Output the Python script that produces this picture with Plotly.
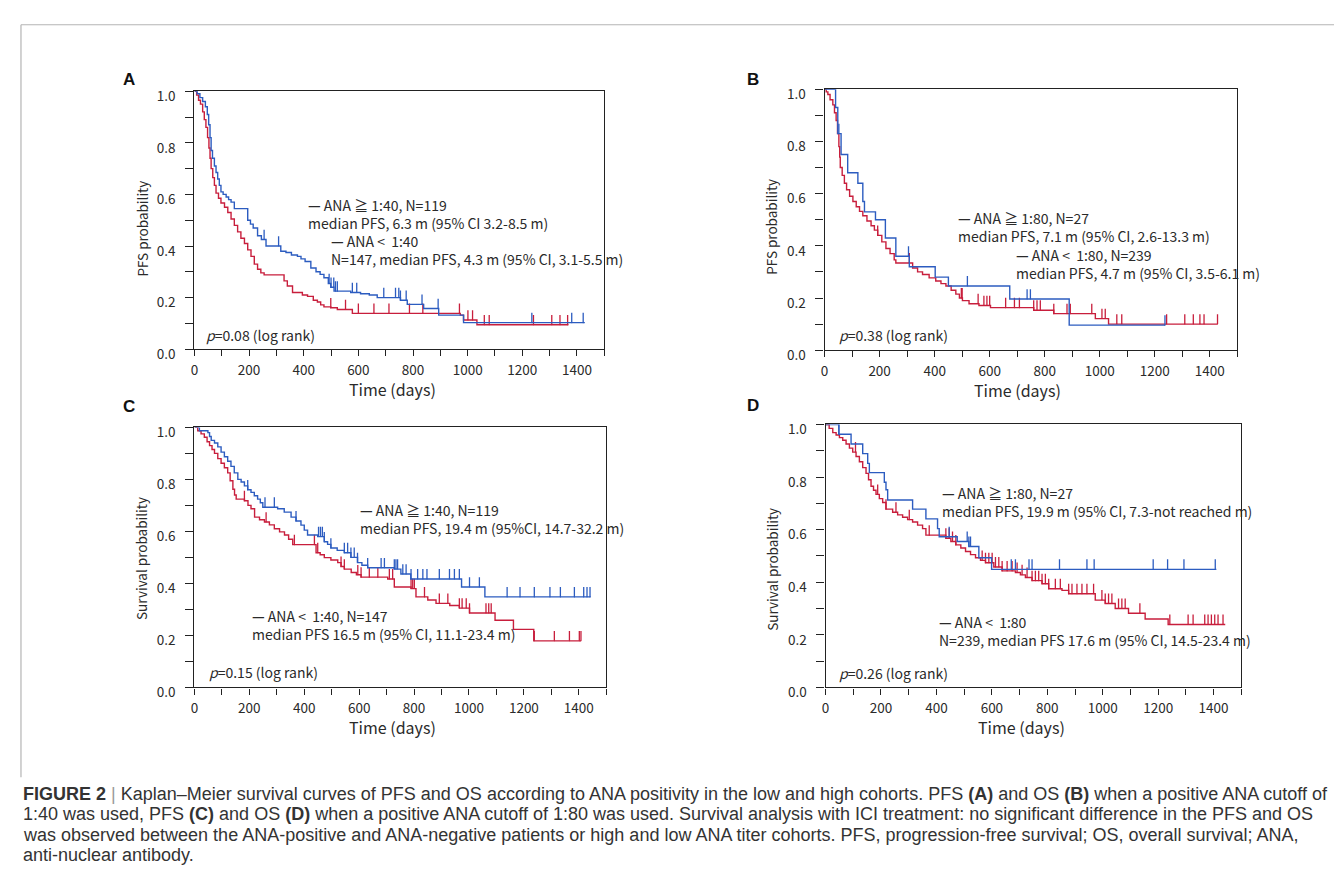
import numpy as np
import plotly.graph_objects as go

# ---------------- data ----------------
# Panel A: PFS, cutoff 1:40
a_hi_t = [0, 10, 20, 30, 40, 47, 52, 57, 61, 66, 73, 79, 85, 91, 97, 105, 116, 125, 134, 146, 195, 205, 215, 231, 245, 262, 316, 335, 355, 377, 390, 405, 426, 445, 460, 474, 490, 499, 511, 572, 608, 640, 669, 754, 779, 839, 894, 985, 1429]
a_hi_s = [1.0, 0.99, 0.975, 0.96, 0.94, 0.91, 0.87, 0.82, 0.77, 0.74, 0.71, 0.685, 0.66, 0.635, 0.61, 0.60, 0.59, 0.58, 0.57, 0.545, 0.50, 0.485, 0.47, 0.44, 0.425, 0.40, 0.38, 0.375, 0.365, 0.36, 0.35, 0.34, 0.315, 0.30, 0.29, 0.277, 0.255, 0.24, 0.225, 0.22, 0.215, 0.21, 0.20, 0.19, 0.174, 0.158, 0.132, 0.103, 0.103]
a_lo_t = [0, 8, 15, 22, 30, 36, 42, 48, 53, 57, 61, 67, 73, 79, 88, 97, 110, 122, 134, 146, 158, 170, 183, 195, 207, 219, 231, 243, 255, 328, 340, 359, 395, 414, 435, 450, 462, 474, 499, 523, 578, 973, 985, 1034, 1369]
a_lo_s = [1.0, 0.985, 0.965, 0.95, 0.92, 0.89, 0.86, 0.82, 0.78, 0.74, 0.70, 0.665, 0.635, 0.605, 0.585, 0.567, 0.55, 0.53, 0.505, 0.48, 0.455, 0.43, 0.41, 0.385, 0.36, 0.33, 0.31, 0.296, 0.288, 0.265, 0.245, 0.22, 0.21, 0.205, 0.19, 0.183, 0.172, 0.164, 0.161, 0.154, 0.139, 0.132, 0.113, 0.095, 0.095]
a_hi_cens = [255, 308, 493, 500, 510, 516, 523, 578, 594, 693, 736, 748, 754, 775, 833, 892, 1235, 1381, 1423]
a_lo_cens = [499, 553, 600, 657, 712, 787, 836, 970, 1001, 1018, 1061, 1079, 1241, 1308, 1338, 1366]

# Panel B: PFS, cutoff 1:80
b_hi_t = [0, 40, 48, 60, 84, 121, 139, 145, 185, 221, 259, 308, 402, 450, 673, 889, 1237]
b_hi_s = [1.0, 0.93, 0.83, 0.75, 0.68, 0.64, 0.57, 0.53, 0.50, 0.43, 0.36, 0.32, 0.28, 0.246, 0.196, 0.096, 0.096]
b_lo_t = [0, 6, 12, 20, 30, 36, 42, 47, 52, 55, 57, 64, 72, 80, 91, 103, 115, 127, 139, 154, 169, 181, 193, 208, 223, 238, 253, 259, 320, 338, 356, 380, 404, 423, 441, 460, 477, 490, 501, 525, 561, 603, 760, 833, 984, 1032, 1428]
b_lo_s = [1.0, 0.99, 0.98, 0.96, 0.94, 0.91, 0.88, 0.83, 0.78, 0.74, 0.70, 0.67, 0.64, 0.615, 0.59, 0.57, 0.55, 0.532, 0.515, 0.495, 0.477, 0.46, 0.44, 0.415, 0.39, 0.37, 0.346, 0.334, 0.315, 0.30, 0.29, 0.277, 0.265, 0.255, 0.246, 0.23, 0.215, 0.20, 0.19, 0.178, 0.171, 0.163, 0.153, 0.14, 0.121, 0.10, 0.10]
b_hi_cens = [52, 305, 519, 736, 748, 1237]
b_lo_cens = [193, 308, 497, 500, 558, 579, 590, 600, 658, 690, 708, 760, 772, 784, 833, 881, 893, 971, 1008, 1020, 1062, 1080, 1243, 1309, 1340, 1364, 1379, 1428]

# Panel C: OS, cutoff 1:40
c_hi_t = [0, 18, 49, 55, 61, 73, 85, 97, 109, 121, 133, 145, 158, 170, 182, 194, 206, 218, 230, 240, 249, 303, 327, 352, 370, 388, 400, 412, 449, 473, 485, 497, 520, 546, 570, 594, 610, 631, 728, 752, 788, 973, 1058, 1443]
c_hi_s = [1.0, 0.987, 0.98, 0.965, 0.95, 0.94, 0.925, 0.905, 0.887, 0.87, 0.85, 0.825, 0.80, 0.79, 0.775, 0.76, 0.75, 0.737, 0.724, 0.71, 0.693, 0.687, 0.674, 0.655, 0.64, 0.624, 0.605, 0.586, 0.58, 0.56, 0.55, 0.536, 0.527, 0.518, 0.50, 0.48, 0.47, 0.46, 0.455, 0.436, 0.417, 0.386, 0.348, 0.348]
c_lo_t = [0, 12, 24, 36, 46, 55, 64, 73, 85, 97, 109, 121, 130, 140, 146, 152, 182, 195, 206, 219, 237, 255, 273, 291, 310, 328, 343, 358, 443, 458, 473, 497, 522, 534, 546, 571, 590, 607, 704, 728, 789, 807, 850, 880, 930, 965, 1002, 1095, 1162, 1236, 1408]
c_lo_s = [1.0, 0.987, 0.975, 0.962, 0.945, 0.93, 0.915, 0.90, 0.88, 0.862, 0.845, 0.825, 0.795, 0.762, 0.74, 0.724, 0.718, 0.70, 0.687, 0.655, 0.645, 0.636, 0.625, 0.61, 0.598, 0.586, 0.57, 0.549, 0.518, 0.51, 0.499, 0.49, 0.48, 0.465, 0.455, 0.442, 0.433, 0.424, 0.417, 0.386, 0.38, 0.348, 0.336, 0.323, 0.315, 0.305, 0.286, 0.258, 0.223, 0.179, 0.179]
c_hi_cens = [194, 257, 291, 370, 452, 459, 466, 473, 497, 546, 558, 570, 582, 594, 631, 680, 692, 728, 734, 740, 759, 771, 789, 813, 832, 847, 892, 929, 947, 965, 1002, 1038, 1139, 1186, 1238, 1295, 1333, 1384, 1418, 1430, 1441]
c_lo_cens = [182, 261, 364, 437, 449, 534, 546, 595, 607, 637, 668, 710, 722, 789, 795, 801, 838, 892, 923, 965, 975, 990, 1002, 1062, 1072, 1081, 1238, 1311, 1366, 1402, 1408]

# Panel D: OS, cutoff 1:80
d_hi_t = [0, 48, 92, 134, 152, 158, 212, 218, 224, 314, 362, 404, 410, 475, 517, 553, 599, 1410]
d_hi_s = [1.0, 0.963, 0.926, 0.889, 0.852, 0.817, 0.78, 0.752, 0.713, 0.678, 0.641, 0.604, 0.573, 0.555, 0.536, 0.493, 0.449, 0.449]
d_lo_t = [0, 13, 26, 38, 50, 62, 74, 86, 98, 110, 122, 134, 146, 155, 164, 173, 182, 194, 206, 218, 242, 260, 278, 296, 314, 332, 350, 362, 434, 452, 470, 488, 505, 523, 541, 559, 577, 607, 637, 685, 703, 721, 745, 781, 805, 853, 877, 973, 1009, 1045, 1093, 1153, 1236, 1442]
d_lo_s = [1.0, 0.985, 0.969, 0.96, 0.95, 0.94, 0.926, 0.91, 0.895, 0.878, 0.858, 0.836, 0.814, 0.79, 0.765, 0.75, 0.734, 0.718, 0.703, 0.678, 0.666, 0.656, 0.647, 0.638, 0.629, 0.617, 0.604, 0.579, 0.567, 0.555, 0.542, 0.53, 0.517, 0.505, 0.493, 0.483, 0.474, 0.458, 0.443, 0.437, 0.428, 0.418, 0.406, 0.394, 0.375, 0.369, 0.356, 0.332, 0.319, 0.30, 0.282, 0.26, 0.239, 0.239]
d_hi_cens = [48, 446, 511, 517, 523, 670, 685, 734, 745, 844, 943, 969, 1182, 1234, 1293, 1406]
d_lo_cens = [108, 188, 218, 254, 302, 374, 434, 446, 458, 470, 565, 577, 589, 601, 613, 625, 637, 655, 673, 691, 709, 727, 745, 757, 769, 781, 793, 805, 829, 847, 877, 889, 907, 925, 943, 967, 997, 1009, 1021, 1033, 1057, 1069, 1081, 1134, 1242, 1308, 1326, 1368, 1380, 1392, 1404, 1416, 1434]

x_ticks = [0, 200, 400, 600, 800, 1000, 1200, 1400]
y_ticks = [0.0, 0.2, 0.4, 0.6, 0.8, 1.0]

panel_letters = ["A", "B", "C", "D"]
y_titles = ["PFS probability", "PFS probability", "Survival probability", "Survival probability"]
x_title = "Time (days)"

# per panel: [high-titer label, low-titer label, p-value]
labels = [
    ["<b>—</b> ANA ≧ 1:40, N=119<br>median PFS, 6.3 m (95% CI 3.2-8.5 m)",
     "<b>—</b> ANA <  1:40<br>N=147, median PFS, 4.3 m (95% CI, 3.1-5.5 m)", "<i>p</i>=0.08 (log rank)"],
    ["<b>—</b> ANA ≧ 1:80, N=27<br>median PFS, 7.1 m (95% CI, 2.6-13.3 m)",
     "<b>—</b> ANA <  1:80, N=239<br>median PFS, 4.7 m (95% CI, 3.5-6.1 m)", "<i>p</i>=0.38 (log rank)"],
    ["<b>—</b> ANA ≧ 1:40, N=119<br>median PFS, 19.4 m (95%CI, 14.7-32.2 m)",
     "<b>—</b> ANA <  1:40, N=147<br>median PFS 16.5 m (95% CI, 11.1-23.4 m)", "<i>p</i>=0.15 (log rank)"],
    ["<b>—</b> ANA ≧ 1:80, N=27<br>median PFS, 19.9 m (95% CI, 7.3-not reached m)",
     "<b>—</b> ANA <  1:80<br>N=239, median PFS 17.6 m (95% CI, 14.5-23.4 m)", "<i>p</i>=0.26 (log rank)"],
]

caption = [
    "<b>FIGURE 2</b> <span style='color:#9a9a9a'>|</span> Kaplan–Meier survival curves of PFS and OS according to ANA positivity in the low and high cohorts. PFS <b>(A)</b> and OS <b>(B)</b> when a positive ANA cutoff of",
    "1:40 was used, PFS <b>(C)</b> and OS <b>(D)</b> when a positive ANA cutoff of 1:80 was used. Survival analysis with ICI treatment: no significant difference in the PFS and OS",
    "was observed between the ANA-positive and ANA-negative patients or high and low ANA titer cohorts. PFS, progression-free survival; OS, overall survival; ANA,",
    "anti-nuclear antibody.",
]

# ---------------- styling / layout ----------------
W, H = 1342, 882
BLUE = "#2c5cc0"
RED = "#c81e3c"
INK = "#222222"
TXT = "#2a2a2a"
JP = "Noto Sans CJK JP"
SANS = "Liberation Sans"


def px(x):
    return x / W


def py(y):
    return 1 - y / H


# plot frames in pixels: (left, right, top, bottom)
frames = [(183, 594, 79, 343), (815, 1229, 77, 344), (183, 596, 423, 689), (816, 1233, 420, 689)]
curves = [
    (a_lo_t, a_lo_s, a_lo_cens, a_hi_t, a_hi_s, a_hi_cens),
    (b_lo_t, b_lo_s, b_lo_cens, b_hi_t, b_hi_s, b_hi_cens),
    (c_lo_t, c_lo_s, c_lo_cens, c_hi_t, c_hi_s, c_hi_cens),
    (d_lo_t, d_lo_s, d_lo_cens, d_hi_t, d_hi_s, d_hi_cens),
]


def step_value(t, s, x):
    t = np.asarray(t)
    s = np.asarray(s)
    idx = np.searchsorted(t, np.asarray(x), side="right") - 1
    return s[np.clip(idx, 0, len(s) - 1)]


fig = go.Figure()
TICK_H = 0.038

for i, (lt, ls, lc, ht, hs, hc) in enumerate(curves):
    xa = "x" if i == 0 else f"x{i+1}"
    ya = "y" if i == 0 else f"y{i+1}"
    for t, s, c, col in ((lt, ls, lc, RED), (ht, hs, hc, BLUE)):
        fig.add_trace(go.Scatter(x=t, y=s, mode="lines", line=dict(color=col, width=1.4, shape="hv"),
                                 xaxis=xa, yaxis=ya, hoverinfo="skip", cliponaxis=False))
        cy = step_value(t, s, c)
        fig.add_trace(go.Scatter(x=c, y=cy, mode="markers", marker=dict(size=1, color=col),
                                 error_y=dict(type="data", symmetric=False, array=[TICK_H] * len(c),
                                              arrayminus=[0] * len(c), width=0, thickness=1.3, color=col),
                                 xaxis=xa, yaxis=ya, hoverinfo="skip"))

layout = dict(width=W, height=H, margin=dict(l=0, r=0, t=0, b=0), paper_bgcolor="white",
              plot_bgcolor="white", showlegend=False)

for i, (l, r, t, b) in enumerate(frames):
    xk = "xaxis" if i == 0 else f"xaxis{i+1}"
    yk = "yaxis" if i == 0 else f"yaxis{i+1}"
    ya = "y" if i == 0 else f"y{i+1}"
    xa = "x" if i == 0 else f"x{i+1}"
    layout[xk] = dict(domain=[px(l), px(r)], anchor=ya, range=[0, 1500], showline=True, linecolor=INK,
                      linewidth=1.4, mirror=True, ticks="outside", ticklen=6, tickwidth=1.3, tickcolor=INK,
                      tickvals=x_ticks, showgrid=False, zeroline=False, ticklabelstandoff=2,
                      minor=dict(dtick=100, tick0=0, ticks="outside", ticklen=6, tickwidth=1.3,
                                 tickcolor=INK, showgrid=False),
                      tickfont=dict(family=JP, size=13.5, color=TXT))
    layout[yk] = dict(domain=[py(b), py(t)], anchor=xa, range=[0, 1], showline=True, linecolor=INK,
                      linewidth=1.4, mirror=True, ticks="outside", ticklen=8, tickwidth=1.3, tickcolor=INK,
                      tickvals=y_ticks, tickformat=".1f", showgrid=False, zeroline=False,
                      ticklabelstandoff=7, ticklabelshift=5,
                      minor=dict(dtick=0.1, tick0=0, ticks="outside", ticklen=8, tickwidth=1.3,
                                 tickcolor=INK, showgrid=False),
                      tickfont=dict(family=JP, size=13.5, color=TXT))

fig.update_layout(**layout)

ann = []
# panel letters
letter_pos = [(117, 67), (743, 67), (117, 402), (743, 401)]
for (x, y), L in zip(letter_pos, panel_letters):
    ann.append(dict(x=px(x), y=py(y), text=f"<b>{L}</b>", font=dict(family=SANS, size=17, color="#111")))
# axis titles
ytitle_pos = [(130, 220), (761, 218), (130, 557), (762, 568)]
for (x, y), T in zip(ytitle_pos, y_titles):
    ann.append(dict(x=px(x), y=py(y), text=T, textangle=-90, font=dict(family=JP, size=13.5, color=TXT)))
xtitle_pos = [(382, 384), (1009, 385), (382, 730), (1013, 730)]
for (x, y) in xtitle_pos:
    ann.append(dict(x=px(x), y=py(y), text=x_title, font=dict(family=JP, size=16, color=TXT)))
# in-plot labels: (x, center y) for the two-line labels and the p-value
label_pos = [
    [(295, 205), (318, 241), (193, 328)],
    [(947, 218), (1005, 256), (827, 328)],
    [(347, 517), (239, 625), (196, 673)],
    [(931, 499), (928, 631), (827, 674)],
]
for pos, texts in zip(label_pos, labels):
    for (x, y), T in zip(pos, texts):
        ann.append(dict(x=px(x), y=py(y), text=T, xanchor="left", align="left",
                        font=dict(family=JP, size=14, color=TXT)))
# caption
for k, line in enumerate(caption):
    ann.append(dict(x=px(9), y=py(798 + 21 * k), text=line, xanchor="left",
                    font=dict(family=SANS, size=18, color="#333333")))

for a in ann:
    a.update(xref="paper", yref="paper", showarrow=False, yanchor=a.get("yanchor", "middle"),
             xanchor=a.get("xanchor", "center"))
fig.update_layout(annotations=ann)

# thin gray figure frame (top and left edges)
fig.update_layout(shapes=[
    dict(type="line", xref="paper", yref="paper", x0=px(9), x1=1, y0=py(11), y1=py(11),
         line=dict(color="#b4b4b4", width=1.2)),
    dict(type="line", xref="paper", yref="paper", x0=px(9), x1=px(9), y0=py(11), y1=py(781),
         line=dict(color="#b4b4b4", width=1.2)),
])

fig.write_html("out.html")
